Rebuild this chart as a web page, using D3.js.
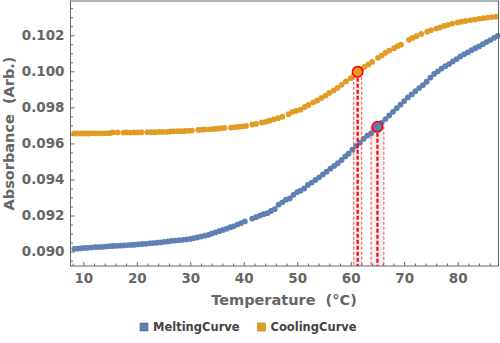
<!DOCTYPE html>
<html>
<head>
<meta charset="utf-8">
<script src="https://cdn.jsdelivr.net/npm/d3@7"></script>
<style>
  body { margin: 0; background: #fff; }
  svg text { font-family: "DejaVu Sans", sans-serif; font-weight: bold; white-space: pre; }
</style>
</head>
<body>
<div id="chart"></div>
<script>
// Melting curve (blue) - temperature in C and absorbance
var meltTemp = [8.3, 8.9, 9.5, 10.2, 10.8, 11.5, 12.2, 12.8, 13.5, 14.2, 14.9, 15.5, 16.2, 16.9, 17.6, 18.3, 19.0, 19.6,
  20.3, 21.0, 21.7, 22.4, 23.0, 23.7, 24.4, 25.1, 25.8, 26.5, 27.2, 27.9, 28.6, 29.3, 30.0, 30.6, 31.3, 32.0, 32.7,
  33.4, 34.0, 34.7, 35.4, 36.1, 36.8, 37.5, 38.1, 38.8, 39.5, 40.2, 41.6, 42.3, 43.0, 43.7, 44.4, 45.1, 45.8, 46.5,
  47.2, 47.9, 48.6, 49.3, 50.0, 50.6, 51.3, 52.0, 52.7, 53.4, 54.1, 54.8, 55.5, 56.2, 56.9, 57.6, 58.3, 59.0, 59.6,
  60.3, 61.0, 61.7, 62.4, 63.1, 63.8, 64.4, 65.0, 65.8, 66.5, 67.2, 67.9, 68.6, 69.3, 70.0, 70.7, 71.4, 72.1, 72.8,
  73.5, 74.2, 74.9, 75.6, 76.3, 77.0, 77.7, 78.4, 79.1, 79.8, 80.5, 81.2, 81.9, 82.6, 83.3, 84.0, 84.7, 85.4, 86.1,
  86.8, 87.5];
var meltAbs = [0.09015, 0.09016, 0.09018, 0.0902, 0.09021, 0.09022, 0.09025, 0.09025, 0.09026, 0.09028, 0.0903,
  0.09031, 0.09032, 0.09033, 0.09034, 0.09036, 0.09037, 0.09038, 0.0904, 0.09042, 0.09043, 0.09046, 0.09047,
  0.09049, 0.09051, 0.09054, 0.09056, 0.09059, 0.09061, 0.09063, 0.09065, 0.09067, 0.0907, 0.09074, 0.09078,
  0.09083, 0.09088, 0.09093, 0.091, 0.09106, 0.09113, 0.0912, 0.09127, 0.09135, 0.0914, 0.0915, 0.09158, 0.09167,
  0.09183, 0.09191, 0.09199, 0.09207, 0.09213, 0.09225, 0.09235, 0.0926, 0.09273, 0.09288, 0.09295, 0.09315,
  0.0933, 0.09338, 0.0935, 0.0937, 0.09383, 0.09397, 0.09412, 0.09428, 0.09443, 0.0946, 0.09475, 0.0949, 0.09508,
  0.09528, 0.09543, 0.09565, 0.09585, 0.09603, 0.09625, 0.09643, 0.09655, 0.09675, 0.09693, 0.09715, 0.09735,
  0.09755, 0.09775, 0.09795, 0.09815, 0.09835, 0.09855, 0.09872, 0.0989, 0.09907, 0.09923, 0.09942, 0.09965,
  0.09985, 0.1, 0.10015, 0.10028, 0.1004, 0.10055, 0.10068, 0.10082, 0.10095, 0.10105, 0.10117, 0.10128, 0.10138,
  0.1015, 0.10162, 0.10173, 0.10185, 0.10196];

// Cooling curve (orange)
var coolTemp = [8.3, 8.9, 9.6, 10.2, 10.9, 11.5, 12.2, 12.9, 13.6, 14.2, 14.9, 15.5, 16.4, 17.5, 18.1, 18.8, 19.5,
  20.2, 20.9, 22.0, 22.7, 23.4, 24.1, 24.8, 25.6, 26.3, 26.9, 27.6, 28.3, 29.0, 29.7, 30.3, 31.5, 32.2, 32.8, 33.6,
  34.3, 35.0, 35.7, 36.4, 37.6, 38.3, 39.0, 39.7, 40.4, 41.6, 42.3, 43.4, 44.1, 44.8, 45.6, 46.4, 47.2, 48.4, 49.1,
  49.8, 50.6, 51.4, 52.1, 53.0, 53.7, 54.5, 55.3, 56.0, 56.8, 57.5, 58.3, 59.1, 60.0, 60.6, 61.3, 62.0, 62.6, 63.3,
  64.0, 65.1, 65.8, 66.5, 67.2, 68.1, 68.8, 69.4, 70.9, 71.6, 72.3, 73.2, 74.3, 75.0, 76.0, 76.7, 77.5, 78.2, 79.0,
  80.0, 80.7, 81.5, 82.4, 83.2, 84.0, 84.8, 85.6, 86.4, 87.2];
var coolAbs = [0.09655, 0.09655, 0.09655, 0.09655, 0.09655, 0.09656, 0.09656, 0.09656, 0.09656, 0.09656, 0.09657,
  0.09661, 0.09661, 0.0966, 0.09661, 0.0966, 0.09661, 0.09661, 0.09662, 0.09662, 0.09662, 0.09662, 0.09664,
  0.09664, 0.09664, 0.09666, 0.09667, 0.09668, 0.09668, 0.09669, 0.0967, 0.09671, 0.09675, 0.09676, 0.09678,
  0.09678, 0.0968, 0.09682, 0.09684, 0.09686, 0.09688, 0.0969, 0.09692, 0.09694, 0.09697, 0.09705, 0.09708,
  0.09716, 0.0972, 0.09726, 0.09733, 0.0974, 0.09748, 0.09762, 0.09775, 0.0978, 0.09787, 0.09802, 0.09813,
  0.09828, 0.09838, 0.09852, 0.09865, 0.0988, 0.09893, 0.09908, 0.09925, 0.09944, 0.09962, 0.09978, 0.09997,
  0.10013, 0.10025, 0.10038, 0.10052, 0.10075, 0.10087, 0.10103, 0.10115, 0.10128, 0.1014, 0.10148, 0.10175,
  0.10185, 0.10195, 0.10207, 0.1022, 0.10228, 0.10237, 0.10243, 0.10252, 0.10258, 0.10265, 0.10271, 0.10275,
  0.10279, 0.10284, 0.10287, 0.10291, 0.10295, 0.10298, 0.10301, 0.10303];

// Highlighted transition points (cooling, melting) with their uncertainty in C
var markTemp = [61.3, 65.0];
var markAbs = [0.09997, 0.09693];
var markErr = [0.75, 1.2];
var markColor = ["#e19c24", "#5e81b5"];

var seriesNames = ["MeltingCurve", "CoolingCurve"];
var seriesColors = ["#5e81b5", "#e19c24"];
var xTicks = [10, 20, 30, 40, 50, 60, 70, 80];
var yTicks = [0.090, 0.092, 0.094, 0.096, 0.098, 0.100, 0.102];

var W = 500, H = 343;
var plotLeft = 70.5, plotRight = 498.5, plotTop = 1, plotBottom = 266;

var svg = d3.select("#chart").append("svg")
    .attr("width", W)
    .attr("height", H);

var x = d3.scaleLinear().domain([7.6, 87.6]).range([plotLeft, plotRight - 0.2]);
var y = d3.scaleLinear().domain([0.0892, 0.1039]).range([plotBottom, plotTop]);

var tickGray = "#666666";

// gray bands for the transition points
var marks = markTemp.map(function (t, i) {
    return {t: t, v: markAbs[i], e: markErr[i], c: markColor[i]};
});

svg.append("g").selectAll("rect").data(marks).enter().append("rect")
    .attr("x", function (d) { return x(d.t - d.e); })
    .attr("y", function (d) { return y(d.v); })
    .attr("width", function (d) { return x(d.t + d.e) - x(d.t - d.e); })
    .attr("height", function (d) { return plotBottom - y(d.v); })
    .attr("fill", "#ececec")
    .attr("opacity", 0.8);

// data points
var melt = meltTemp.map(function (t, i) { return [t, meltAbs[i]]; });
var cool = coolTemp.map(function (t, i) { return [t, coolAbs[i]]; });

svg.append("g").selectAll("circle").data(melt).enter().append("circle")
    .attr("cx", function (d) { return x(d[0]); })
    .attr("cy", function (d) { return y(d[1]); })
    .attr("r", 2.9)
    .attr("fill", seriesColors[0]);

svg.append("g").selectAll("circle").data(cool).enter().append("circle")
    .attr("cx", function (d) { return x(d[0]); })
    .attr("cy", function (d) { return y(d[1]); })
    .attr("r", 2.9)
    .attr("fill", seriesColors[1]);

// outer dashed lines (error range) and centre line
marks.forEach(function (d) {
    [d.t - d.e, d.t + d.e].forEach(function (t) {
        svg.append("line")
            .attr("x1", x(t)).attr("x2", x(t))
            .attr("y1", y(d.v)).attr("y2", plotBottom)
            .attr("stroke", "#ff3030")
            .attr("stroke-opacity", 0.8)
            .attr("stroke-width", 1.1)
            .attr("stroke-dasharray", "3,2");
    });
    svg.append("line")
        .attr("x1", x(d.t)).attr("x2", x(d.t))
        .attr("y1", y(d.v)).attr("y2", plotBottom)
        .attr("stroke", "#ff0000")
        .attr("stroke-width", 2.2)
        .attr("stroke-dasharray", "4,2");
});

// markers
svg.append("g").selectAll("circle").data(marks).enter().append("circle")
    .attr("cx", function (d) { return x(d.t); })
    .attr("cy", function (d) { return y(d.v); })
    .attr("r", 5.2)
    .attr("fill", function (d) { return d.c; })
    .attr("stroke", "#ff0000")
    .attr("stroke-width", 1.6);

// frame
svg.append("rect")
    .attr("x", plotLeft).attr("y", plotTop)
    .attr("width", plotRight - plotLeft).attr("height", plotBottom - plotTop)
    .attr("fill", "none")
    .attr("stroke", tickGray)
    .attr("stroke-width", 1);

// y axis: major and minor ticks pointing inward
var yAxis = svg.append("g")
    .attr("transform", "translate(" + plotLeft + ",0)")
    .call(d3.axisLeft(y).tickValues(yTicks).tickSize(-4).tickPadding(6).tickFormat(d3.format(".3f")));
var yMinor = svg.append("g")
    .attr("transform", "translate(" + plotLeft + ",0)")
    .call(d3.axisLeft(y).tickValues(d3.range(0.0895, 0.1039, 0.0005).filter(function (v) {
        return Math.abs(Math.round(v * 500) - v * 500) > 0.01;
    })).tickSize(-2.5).tickFormat(""));

// x axis
var xAxis = svg.append("g")
    .attr("transform", "translate(0," + plotBottom + ")")
    .call(d3.axisBottom(x).tickValues(xTicks).tickSize(-4).tickPadding(7).tickFormat(d3.format("d")));
var xMinor = svg.append("g")
    .attr("transform", "translate(0," + plotBottom + ")")
    .call(d3.axisBottom(x).tickValues(d3.range(8, 88, 2).filter(function (v) { return v % 10 != 0; }))
        .tickSize(-2.5).tickFormat(""));

[yAxis, yMinor, xAxis, xMinor].forEach(function (g) {
    g.select(".domain").remove();
    g.selectAll("line").attr("stroke", tickGray);
    g.selectAll("text").attr("fill", tickGray).style("font-size", "13.5px");
});

// axis labels
svg.append("text")
    .attr("x", 284)
    .attr("y", 305)
    .attr("text-anchor", "middle")
    .attr("fill", tickGray)
    .style("font-size", "14.5px")
    .text("Temperature  (\u00b0C)");

svg.append("text")
    .attr("transform", "rotate(-90)")
    .attr("x", -(plotTop + plotBottom) / 2)
    .attr("y", 14)
    .attr("text-anchor", "middle")
    .attr("fill", tickGray)
    .style("font-size", "14.5px")
    .text("Absorbance  (Arb.)");

// legend
var legendX = [140, 257.5];
var legend = svg.append("g");
seriesNames.forEach(function (name, i) {
    legend.append("rect")
        .attr("x", legendX[i]).attr("y", 323)
        .attr("width", 8).attr("height", 8)
        .attr("fill", seriesColors[i])
        .attr("stroke", d3.color(seriesColors[i]).darker(0.6))
        .attr("stroke-width", 0.6);
    legend.append("text")
        .attr("x", legendX[i] + 13)
        .attr("y", 331)
        .attr("fill", "#444444")
        .style("font-size", "11.5px")
        .text(name);
});
</script>
</body>
</html>
